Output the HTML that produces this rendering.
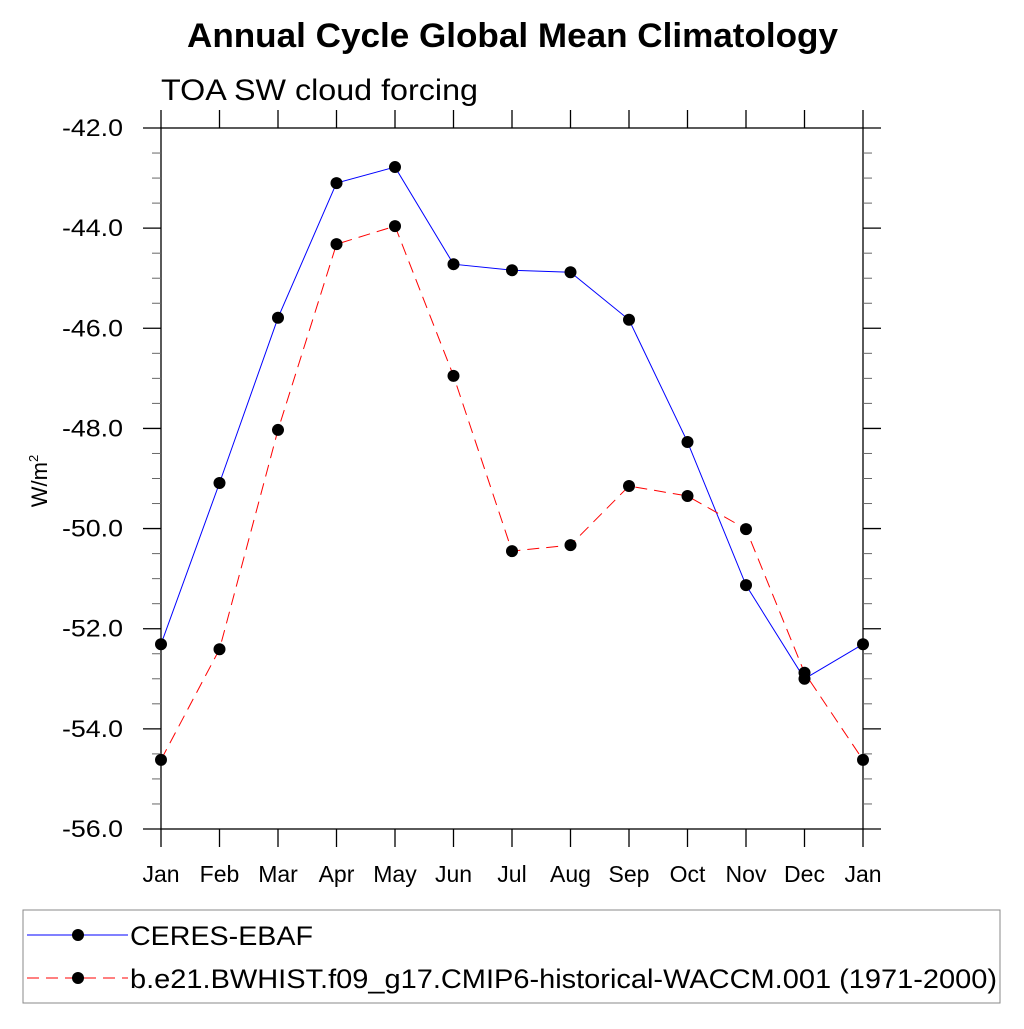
<!DOCTYPE html>
<html><head><meta charset="utf-8"><style>
html,body{margin:0;padding:0;background:#fff}
svg text{font-family:"Liberation Sans",Arial,sans-serif;fill:#000}
</style></head><body>
<svg id="chart" width="1024" height="1024" viewBox="0 0 1024 1024" xmlns="http://www.w3.org/2000/svg">
<text x="187" y="47" font-size="34" font-weight="bold" textLength="651" lengthAdjust="spacingAndGlyphs">Annual Cycle Global Mean Climatology</text>
<text x="161" y="100" font-size="30" textLength="317" lengthAdjust="spacingAndGlyphs">TOA SW cloud forcing</text>
<rect x="161" y="128" width="702" height="701" fill="none" stroke="#000" stroke-width="1.3"/>
<g id="axes"></g>
<g id="series"></g>
<text transform="translate(47,481) rotate(-90)" text-anchor="middle" font-size="22">W/m<tspan font-size="13" dy="-9">2</tspan></text>
<g>
<rect x="23" y="910" width="977" height="93" fill="#fff" stroke="#888" stroke-width="1"/>
<g>
<line x1="27" y1="935" x2="128" y2="935" stroke="#0000ff" stroke-width="1"/>
<circle cx="78" cy="935" r="6" fill="#000"/>
<text x="130" y="945" font-size="27" textLength="183" lengthAdjust="spacingAndGlyphs">CERES-EBAF</text>
</g>
<g>
<line x1="27" y1="978" x2="128" y2="978" stroke="#ff0000" stroke-width="1" stroke-dasharray="12,7"/>
<circle cx="78" cy="978" r="6" fill="#000"/>
<text x="130" y="988" font-size="27" textLength="867" lengthAdjust="spacingAndGlyphs">b.e21.BWHIST.f09_g17.CMIP6-historical-WACCM.001 (1971-2000)</text>
</g>
</g>
</svg>
<script>
const months = ["Jan","Feb","Mar","Apr","May","Jun","Jul","Aug","Sep","Oct","Nov","Dec","Jan"];
const ceres = [-52.31,-49.09,-45.79,-43.10,-42.78,-44.72,-44.84,-44.88,-45.83,-48.27,-51.13,-53.0,-52.31];
const model = [-54.62,-52.41,-48.03,-44.32,-43.96,-46.95,-50.45,-50.33,-49.15,-49.35,-50.01,-52.88,-54.62];
const yTicks = [-42,-44,-46,-48,-50,-52,-54,-56];
const yTickLabels = ["-42.0","-44.0","-46.0","-48.0","-50.0","-52.0","-54.0","-56.0"];
const NS="http://www.w3.org/2000/svg";
const X0=161,X1=863,Y0=128,Y1=829,YMAX=-42,YMIN=-56,L=161,R=863;
const xs=i=>X0+(X1-X0)*i/(months.length-1);
const ys=v=>Y0+(YMAX-v)/(YMAX-YMIN)*(Y1-Y0);
function mk(tag,attrs,parent){const e=document.createElementNS(NS,tag);for(const k in attrs)e.setAttribute(k,attrs[k]);parent.appendChild(e);return e;}
const ax=document.getElementById('axes');
yTicks.forEach((v,i)=>{
  const y=ys(v);
  const t=mk('line',{x1:L,x2:L-18,y1:y,y2:y,stroke:'#000','stroke-width':1.3},ax);
  
  
  mk('line',{x1:R,x2:R+18,y1:y,y2:y,stroke:'#000','stroke-width':1.3},ax);
  const tx=mk('text',{x:123,y:y+8,'text-anchor':'end','font-size':24,textLength:61,lengthAdjust:'spacingAndGlyphs'},ax);
  tx.textContent=yTickLabels[i];
  
  
});
for(let v=YMAX;v>=YMIN;v-=0.5){
  if(Math.abs(v%2)<0.01)continue;
  const y=ys(v);
  mk('line',{x1:L,x2:L-9,y1:y,y2:y,stroke:'#666','stroke-width':1},ax);
  mk('line',{x1:R,x2:R+9,y1:y,y2:y,stroke:'#666','stroke-width':1},ax);
}
months.forEach((m,i)=>{
  const x=xs(i);
  const t=mk('line',{x1:x,x2:x,y1:Y1,y2:Y1+18,stroke:'#000','stroke-width':1.3},ax);
  
  
  mk('line',{x1:x,x2:x,y1:Y0,y2:Y0-18,stroke:'#000','stroke-width':1.3},ax);
  const tx=mk('text',{x:x,y:882,'text-anchor':'middle','font-size':23},ax);
  tx.textContent=m;
  
  
});
const sg=document.getElementById('series');
function drawSeries(vals,color,dash,name){
  const pts=vals.map((v,i)=>xs(i)+','+ys(v)).join(' ');
  const pl=mk('polyline',{points:pts,fill:'none',stroke:color,'stroke-width':1,'stroke-dasharray':dash},sg);
  
  
  vals.forEach((v,i)=>{
    const c=mk('circle',{cx:xs(i),cy:ys(v),r:6,fill:'#000'},sg);
    
    
  });
}
drawSeries(ceres,'#0000ff','none','ceres');
drawSeries(model,'#ff0000','12,7','model');
</script>
</body></html>
